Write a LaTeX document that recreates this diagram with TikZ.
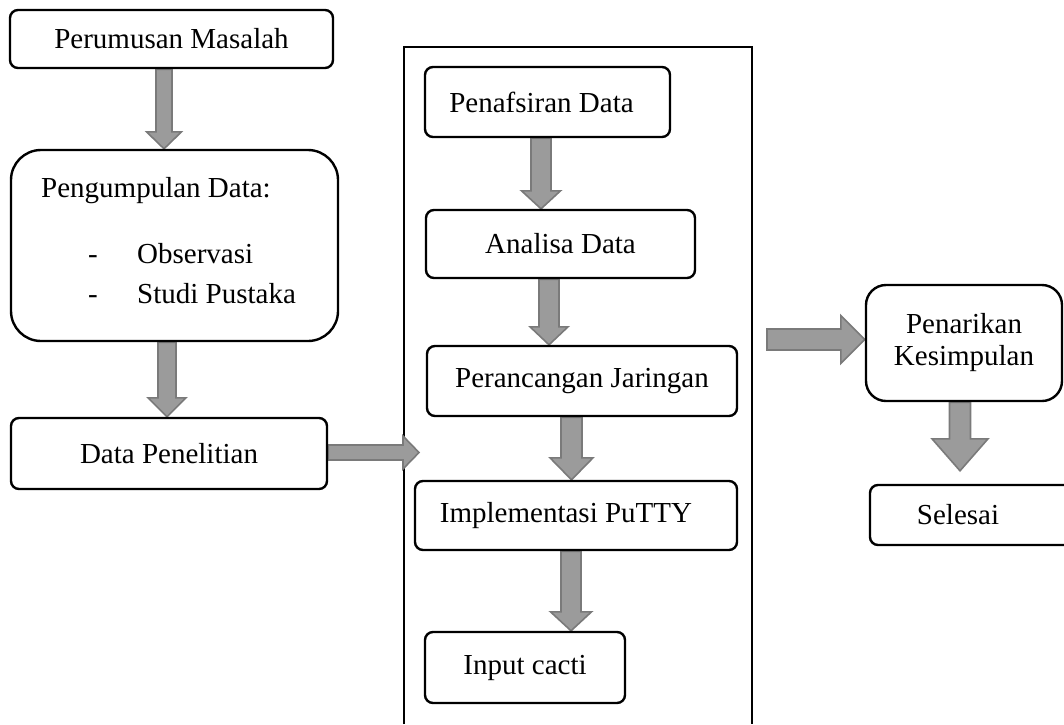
\documentclass[tikz,border=0pt]{standalone}
\usepackage{fontspec}
\setmainfont{Liberation Serif}
\usetikzlibrary{calc,backgrounds}

\definecolor{arrowfill}{HTML}{9B9B9B}
\definecolor{arrowedge}{HTML}{7A7A7A}

\tikzset{
  stepbox/.style={draw, line width=2.4pt, rounded corners=8pt, inner sep=0pt,
    align=center, font=\fontsize{29}{32}\selectfont},
  plaintext/.style={inner sep=0pt, font=\fontsize{29}{32}\selectfont},
  fat/.style={fill=arrowfill, draw=arrowedge, line width=1.6pt, line join=miter},
  frame/.style={draw, line width=1.2pt},
}

% block arrow pointing down: start, tip, shaft half width, head half width, head length
\newcommand\fatv[5]{%
  \path #1 coordinate (fs) #2 coordinate (ft);
  \draw[fat] ($(fs)+(-#3,0)$) -- ($(ft)+(-#3,-#5)$) -- ($(ft)+(-#4,-#5)$) -- (ft)
    -- ($(ft)+(#4,-#5)$) -- ($(ft)+(#3,-#5)$) -- ($(fs)+(#3,0)$) -- cycle;}
% block arrow pointing right: same arguments
\newcommand\fath[5]{%
  \path #1 coordinate (fs) #2 coordinate (ft);
  \draw[fat] ($(fs)+(0,-#3)$) -- ($(ft)+(-#5,-#3)$) -- ($(ft)+(-#5,-#4)$) -- (ft)
    -- ($(ft)+(-#5,#4)$) -- ($(ft)+(-#5,#3)$) -- ($(fs)+(0,#3)$) -- cycle;}

\begin{document}
\begin{tikzpicture}[x=1pt,y=-1pt]
\useasboundingbox (0,0) rectangle (1064,724);

% left column
\node[stepbox, minimum width=323, minimum height=58] (perumusan) at (171.5,39) {Perumusan Masalah};
\node[stepbox, rounded corners=30pt, minimum width=327, minimum height=191] (pengumpulan) at (174.5,245.5) {};
\node[plaintext, anchor=base west] (pdhead) at (41,197) {Pengumpulan Data:};
\node[plaintext, anchor=base west] (dash1) at (88,263) {-};
\node[plaintext, anchor=base west] (obs) at (137,263) {Observasi};
\node[plaintext, anchor=base west] (dash2) at (88,303) {-};
\node[plaintext, anchor=base west] (studi) at (137,303) {Studi Pustaka};
\node[stepbox, minimum width=316, minimum height=71] (data) at (169,453.5) {Data Penelitian};

% middle column
\node[stepbox, minimum width=245, minimum height=70] (penafsiran) at (547.5,102) {Penafsiran Data\hspace*{12pt}};
\node[stepbox, minimum width=269, minimum height=68] (analisa) at (560.5,244) {Analisa Data};
\node[stepbox, minimum width=310, minimum height=70] (perancangan) at (582,381) {Perancangan Jaringan};
\node[stepbox, minimum width=322, minimum height=69] (implementasi) at (576,515.5) {Implementasi PuTTY\hspace*{20pt}};
\node[stepbox, minimum width=200, minimum height=71] (input) at (525,667.5) {Input cacti};

% right column (the last box runs on past the page edge)
\node[stepbox, rounded corners=20pt, minimum width=196, minimum height=116] (penarikan) at (964,343) {Penarikan\\Kesimpulan};
\node[stepbox, minimum width=210, minimum height=60] (selesai) at (975,515) {Selesai\hspace*{34pt}};

\coordinate (x1) at (164,0);
\coordinate (x2) at (167,0);
\coordinate (h1tip) at (419,452.5);
\coordinate (xa) at (541,0);
\coordinate (xb) at (549,0);
\coordinate (xc) at (571.5,0);
\coordinate (xd) at (571,0);
\coordinate (h2start) at (767,339.5);
\coordinate (xr) at (960,0);

\begin{scope}[on background layer]
  % open frame round the middle column
  \draw[frame] (404,724) -- (404,47) -- (752,47) -- (752,724);

  \fatv{(perumusan.south -| x1)}{(pengumpulan.north -| x1)}{8}{17.5}{17}
  \fatv{(pengumpulan.south -| x2)}{(data.north -| x2)}{9}{19}{19}
  \fath{(data.east |- h1tip)}{(h1tip)}{7.5}{16.5}{16}
  \fatv{(penafsiran.south -| xa)}{(analisa.north -| xa)}{10}{19.5}{18}
  \fatv{(analisa.south -| xb)}{(perancangan.north -| xb)}{10}{19}{18}
  \fatv{(perancangan.south -| xc)}{(implementasi.north -| xc)}{10.5}{21.5}{22}
  \fatv{(implementasi.south -| xd)}{(input.north -| xd)}{10}{20.5}{19}
  \fath{(h2start)}{(penarikan.west |- h2start)}{10.5}{24}{24}
  \fatv{(penarikan.south -| xr)}{($(selesai.north -| xr)+(0,-13)$)}{10.5}{28}{32}
\end{scope}
\end{tikzpicture}
\end{document}
